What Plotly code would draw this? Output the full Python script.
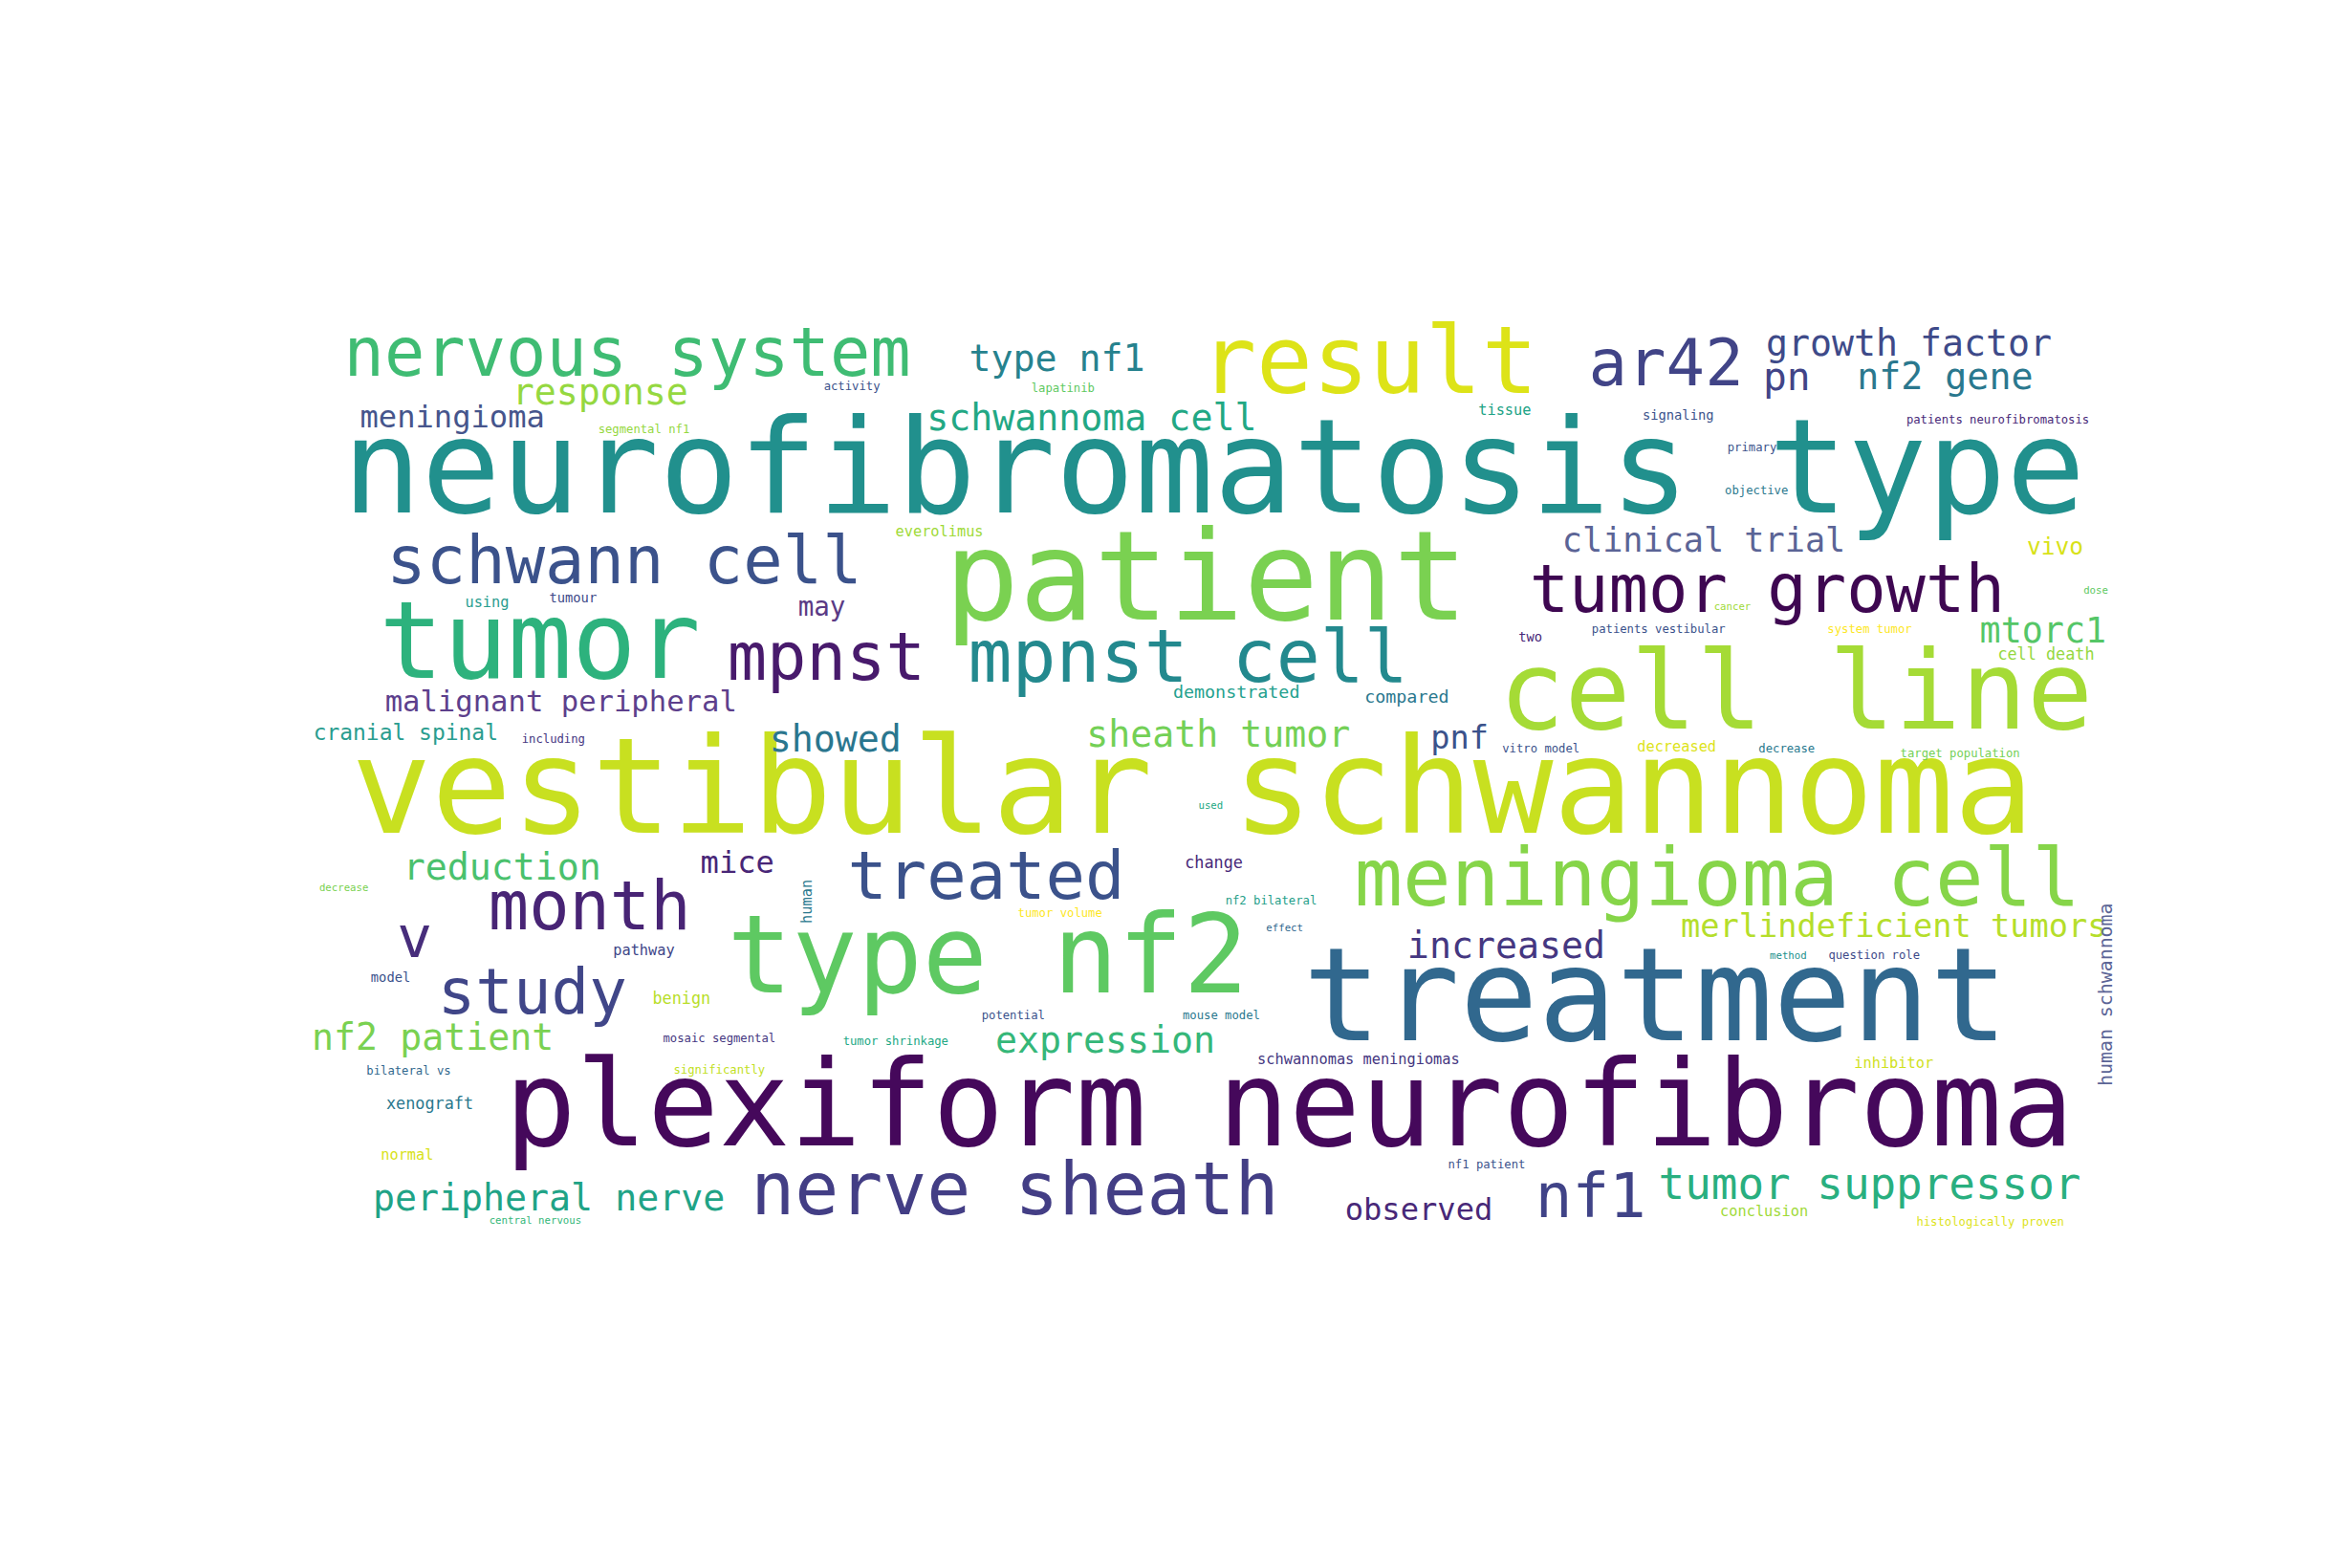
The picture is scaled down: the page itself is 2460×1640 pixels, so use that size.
import plotly.graph_objects as go

# word, relative size (display px), colour, centre x, centre y (reference-image layout coords)
words = ["neurofibromatosis type", "vestibular schwannoma", "plexiform neurofibroma", "treatment", "patient",
         "tumor", "cell line", "type nf2", "result", "nervous system", "schwann cell", "mpnst", "mpnst cell",
         "meningioma cell", "nerve sheath", "tumor growth", "ar42", "treated", "month", "study", "nf1", "v",
         "growth factor", "pn", "nf2 gene", "type nf1", "response", "meningioma", "schwannoma cell",
         "clinical trial", "mtorc1", "malignant peripheral", "showed", "sheath tumor", "pnf", "cranial spinal",
         "reduction", "mice", "increased", "merlindeficient tumors", "nf2 patient", "expression",
         "peripheral nerve", "tumor suppressor", "observed", "may",
         "activity", "lapatinib", "segmental nf1", "everolimus", "using", "tumour", "demonstrated", "compared",
         "including", "tissue", "signaling", "patients neurofibromatosis", "primary", "objective", "vivo", "dose",
         "cancer", "two", "patients vestibular", "system tumor", "cell death", "vitro model", "decreased",
         "decrease", "target population", "used", "decrease", "change", "tumor volume", "nf2 bilateral", "effect",
         "pathway", "model", "method", "question role", "benign", "potential", "mouse model", "mosaic segmental",
         "tumor shrinkage", "schwannomas meningiomas", "bilateral vs", "significantly", "inhibitor", "xenograft",
         "normal", "nf1 patient", "central nervous", "conclusion", "histologically proven"]
sizes = [90, 91, 81, 89, 85, 73, 75, 74, 64, 46, 45, 45, 50, 55, 50, 45, 44, 45, 46, 43, 42, 40,
         25, 27, 25, 25, 25, 21, 25, 23, 24, 20, 25, 25, 22, 15, 25, 21, 25, 22, 25, 25, 25, 30, 21, 18,
         8, 8, 8, 10, 10, 9, 12, 12, 8, 10, 9, 8, 8, 8, 16, 7, 7, 9, 8, 8, 11, 8, 10, 8, 8, 7, 7, 11, 8, 8, 7,
         10, 9, 7, 8, 11, 8, 8, 8, 8, 10, 8, 8, 10, 11, 10, 8, 7, 10, 8]
colors = ["#21908d", "#c8e020", "#45085b", "#31688e", "#7ad151", "#2db27d", "#a5db36", "#5ec962", "#dde318",
          "#3fbc73", "#3b528b", "#481a6c", "#23898e", "#86d549", "#433e85", "#3e0751", "#414487", "#3b528b",
          "#482475", "#404688", "#404387", "#472d7b", "#3e4a89", "#414487", "#2a788e", "#26828e", "#95d840",
          "#46558c", "#22a884", "#5b6496", "#55c667", "#5d3f8c", "#2a768e", "#73d056", "#3b528b", "#2a9d8f",
          "#4ac16d", "#482677", "#453781", "#b5de2b", "#7ad151", "#35b779", "#20a386", "#29af7f", "#482878",
          "#5a3a85",
          "#3b528b", "#5ec962", "#95d840", "#a0da39", "#2a9d8f", "#3e4a89", "#25a18e", "#2a788e", "#453781",
          "#20a386", "#3b528b", "#482878", "#3b528b", "#2a788e", "#d8e219", "#5ec962", "#a0da39", "#482878",
          "#3b528b", "#fde725", "#95d840", "#3b528b", "#dde318", "#2a788e", "#73d056", "#22a884", "#7ad151",
          "#482878", "#fde725", "#1f9e89", "#31688e", "#404688", "#3b528b", "#21918c", "#3e4a89", "#b8de29",
          "#3b528b", "#2a788e", "#453781", "#22a884", "#453781", "#31688e", "#c2df23", "#d0e11c", "#2a788e",
          "#d8e219", "#3b528b", "#35b779", "#a0da39", "#dde318"]
xs = [800, 786, 850, 1093, 795, 353, 1186, 650, 903, 411, 409, 543, 783, 1134, 668, 1167, 1100, 649, 386,
      348, 1050, 270, 1261, 1180, 1285, 696, 393, 295, 719, 1125, 1350, 367, 549, 803, 963, 264, 328, 484,
      994, 1251, 282, 728, 359, 1235, 936, 540,
      560, 700, 422, 618, 318, 375, 815, 928, 362, 993, 1108, 1320, 1157, 1160, 1358, 1385, 1144, 1010, 1095,
      1235, 1352, 1017, 1107, 1180, 1295, 798, 223, 800, 698, 838, 847, 422, 254, 1181, 1238, 447, 667, 805,
      472, 589, 896, 266, 472, 1251, 280, 265, 981, 350, 1165, 1315]
ys = [318, 530, 740, 668, 390, 432, 465, 640, 245, 238, 376, 440, 440, 587, 793, 395, 245, 585, 605, 662,
      797, 625, 230, 252, 252, 240, 262, 278, 279, 360, 420, 467, 492, 489, 491, 487, 577, 574, 629, 616,
      690, 692, 797, 788, 804, 404,
      257, 258, 285, 353, 400, 397, 460, 463, 491, 273, 276, 279, 297, 326, 364, 392, 403, 423, 418, 418,
      435, 497, 496, 497, 500, 535, 589, 573, 606, 598, 616, 631, 649, 634, 634, 663, 674, 674, 689, 691,
      703, 711, 710, 706, 733, 767, 773, 810, 804, 811]

# vertical words
vwords = ["human", "human schwannoma"]
vsizes = [10, 13]
vcolors = ["#2a788e", "#5b6496"]
vxs = [530, 1392]
vys = [593, 655]

SCALE = 2460 / 1560 * 0.97
YSHIFT = -5
FONT = "DejaVu Sans Mono"

fig = go.Figure(go.Scatter(
    x=xs, y=[y + YSHIFT for y in ys], mode="text", text=words, textposition="middle center",
    textfont=dict(family=FONT, size=[s * SCALE for s in sizes], color=colors),
    hoverinfo="text"))

for w, s, c, x, y in zip(vwords, vsizes, vcolors, vxs, vys):
    fig.add_annotation(x=x, y=y, text=w, textangle=-90, showarrow=False,
                       font=dict(family=FONT, size=s * SCALE, color=c))

fig.update_layout(
    width=2460, height=1640, margin=dict(l=0, r=0, t=0, b=0),
    paper_bgcolor="white", plot_bgcolor="white", showlegend=False,
    xaxis=dict(range=[0, 1560], visible=False, fixedrange=True),
    yaxis=dict(range=[1040, 0], visible=False, fixedrange=True),
)
fig.write_html("out.html")
